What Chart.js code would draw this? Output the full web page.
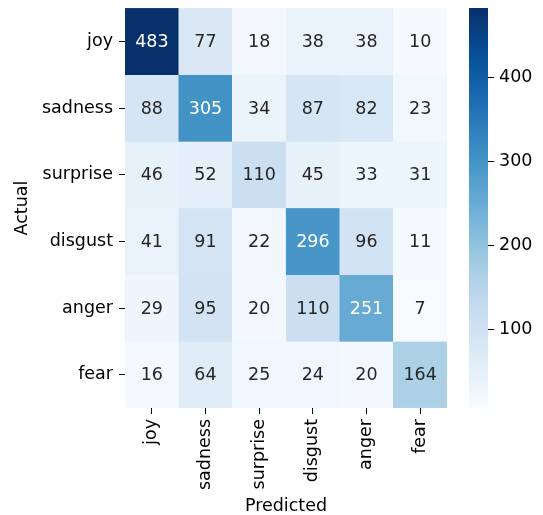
<!DOCTYPE html>
<html>
<head>
<meta charset="utf-8">
<script src="https://cdn.jsdelivr.net/npm/chart.js@4.4.1/dist/chart.umd.min.js"></script>
<style>
  html, body { margin: 0; padding: 0; background: #fff; }
  #wrap { position: relative; width: 543px; height: 515px; }
  #heat { position: absolute; left: 0; top: 0; }
  #cbar { position: absolute; left: 440px; top: 0; }
</style>
</head>
<body>
<div id="wrap">
  <canvas id="heat" width="543" height="515"></canvas>
  <canvas id="cbar" width="103" height="515"></canvas>
</div>
<script>
const classes = ['joy', 'sadness', 'surprise', 'disgust', 'anger', 'fear'];

// rows = actual, columns = predicted
const joyRow = [483, 77, 18, 38, 38, 10];
const sadnessRow = [88, 305, 34, 87, 82, 23];
const surpriseRow = [46, 52, 110, 45, 33, 31];
const disgustRow = [41, 91, 22, 296, 96, 11];
const angerRow = [29, 95, 20, 110, 251, 7];
const fearRow = [16, 64, 25, 24, 20, 164];
const matrix = [joyRow, sadnessRow, surpriseRow, disgustRow, angerRow, fearRow];

const cbarTicks = [100, 200, 300, 400];

const vmin = Math.min(...matrix.flat());
const vmax = Math.max(...matrix.flat());

// matplotlib "Blues"
const blues = ['#f7fbff', '#deebf7', '#c6dbef', '#9ecae1', '#6baed6', '#4292c6', '#2171b5', '#08519c', '#08306b'];

function hexRgb(h) {
  return [parseInt(h.slice(1, 3), 16), parseInt(h.slice(3, 5), 16), parseInt(h.slice(5, 7), 16)];
}

function bluesRgb(t) {
  t = Math.max(0, Math.min(1, t));
  const pos = t * (blues.length - 1);
  const i = Math.min(Math.floor(pos), blues.length - 2);
  const f = pos - i;
  const a = hexRgb(blues[i]), b = hexRgb(blues[i + 1]);
  return a.map((c, k) => Math.round(c + (b[k] - c) * f));
}

function cellColor(v) {
  const c = bluesRgb((v - vmin) / (vmax - vmin));
  return 'rgb(' + c.join(',') + ')';
}

// same rule seaborn uses to pick annotation colour
function textColor(v) {
  const lin = bluesRgb((v - vmin) / (vmax - vmin)).map(c => {
    c = c / 255;
    return c <= 0.03928 ? c / 12.92 : Math.pow((c + 0.055) / 1.055, 2.4);
  });
  const lum = 0.2126 * lin[0] + 0.7152 * lin[1] + 0.0722 * lin[2];
  return lum > 0.408 ? '#262626' : '#ffffff';
}

const FS = 17.5;
Chart.defaults.font.family = "'DejaVu Sans', sans-serif";
Chart.defaults.font.size = FS;
Chart.defaults.color = '#000';

const annotate = {
  id: 'annotate',
  afterDatasetsDraw(chart) {
    const ctx = chart.ctx;
    ctx.save();
    ctx.font = FS + "px 'DejaVu Sans', sans-serif";
    ctx.textAlign = 'center';
    ctx.textBaseline = 'middle';
    chart.data.datasets.forEach((ds, r) => {
      chart.getDatasetMeta(r).data.forEach((el, c) => {
        const v = matrix[r][c];
        ctx.fillStyle = textColor(v);
        ctx.fillText(String(v), el.x, (el.y + el.base) / 2 + 1);
      });
    });
    ctx.restore();
  }
};

// keep tick labels from pushing the plot area in
function noEdgePad(scale) {
  scale.paddingTop = 0;
  scale.paddingBottom = 0;
}

new Chart(document.getElementById('heat'), {
  type: 'bar',
  data: {
    labels: classes,
    datasets: matrix.map((row, r) => ({
      label: classes[r],
      data: row.map(() => [r - 0.5, r + 0.5]),
      backgroundColor: row.map(cellColor),
      borderColor: row.map(cellColor),
      borderWidth: 0.5,
      borderSkipped: false,
      barPercentage: 1,
      categoryPercentage: 1,
      grouped: false
    }))
  },
  options: {
    responsive: false,
    animation: false,
    layout: { padding: { left: 0, right: 96, top: 8, bottom: 0 } },
    plugins: { legend: { display: false }, tooltip: { enabled: false } },
    scales: {
      x: {
        offset: true,
        grid: { display: true, offset: false, drawOnChartArea: false, tickLength: 6, color: '#000', tickWidth: 1 },
        border: { display: false },
        ticks: { minRotation: 90, maxRotation: 90, padding: 5, color: '#000' },
        title: { display: true, text: 'Predicted', font: { lineHeight: 1 }, padding: { top: 0, bottom: 0 }, color: '#000' },
        afterFit(scale) { scale.height = 107; scale.paddingLeft = 0; scale.paddingRight = 0; }
      },
      y: {
        reverse: true,
        min: -0.5,
        max: 5.5,
        afterBuildTicks(scale) { scale.ticks = classes.map((_, i) => ({ value: i })); },
        grid: { display: true, drawOnChartArea: false, tickLength: 6, color: '#000', tickWidth: 1 },
        border: { display: false },
        ticks: { padding: 6, color: '#000', callback: (v) => classes[v] },
        title: { display: true, text: 'Actual', font: { lineHeight: 1 }, padding: { top: 14, bottom: 0 }, color: '#000' },
        afterFit(scale) { scale.width = 125; noEdgePad(scale); }
      }
    }
  },
  plugins: [annotate]
});

// colour bar
new Chart(document.getElementById('cbar'), {
  type: 'bar',
  data: {
    labels: [''],
    datasets: [{
      data: [[vmin, vmax]],
      backgroundColor(ctx) {
        const area = ctx.chart.chartArea;
        if (!area) return blues[4];
        const g = ctx.chart.ctx.createLinearGradient(0, area.bottom, 0, area.top);
        blues.forEach((c, i) => g.addColorStop(i / (blues.length - 1), c));
        return g;
      },
      borderWidth: 0,
      barPercentage: 1,
      categoryPercentage: 1
    }]
  },
  options: {
    responsive: false,
    animation: false,
    layout: { padding: { left: 29, right: 0, top: 8, bottom: 107 } },
    plugins: { legend: { display: false }, tooltip: { enabled: false } },
    scales: {
      x: { display: false },
      y: {
        position: 'right',
        min: vmin,
        max: vmax,
        afterBuildTicks(scale) { scale.ticks = cbarTicks.map(v => ({ value: v })); },
        grid: { display: true, drawOnChartArea: false, tickLength: 6, color: '#000', tickWidth: 1 },
        border: { display: false },
        ticks: { padding: 5, color: '#000' },
        afterFit(scale) { scale.width = 55; noEdgePad(scale); }
      }
    }
  }
});
</script>
</body>
</html>
